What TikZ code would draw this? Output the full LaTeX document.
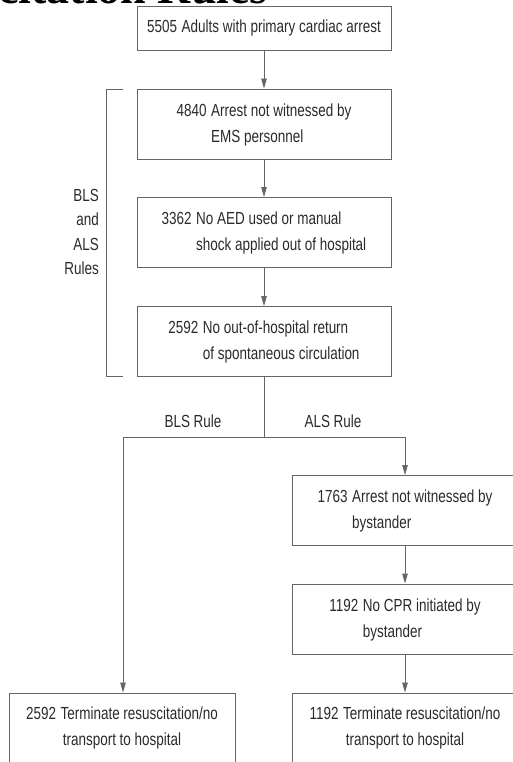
\documentclass[tikz,border=0pt]{standalone}
\usepackage{fontspec}
\setmainfont[FakeStretch=0.77]{Liberation Sans}
\newfontfamily\titlefont{Liberation Serif}
\usetikzlibrary{arrows.meta}
\definecolor{linegray}{HTML}{666666}
\definecolor{textgray}{HTML}{2A2A2A}
\newcommand\hangtext[3]{\begin{tabular}{@{}l@{\hspace{4.5pt}}l@{}}#1 & #2\\ & #3\end{tabular}}
\tikzset{
  flowbox/.style={draw=linegray, line width=0.9pt, minimum width=254pt, minimum height=70pt, inner sep=0pt, text=textgray, font=\fontsize{17.5}{26}\selectfont},
  sidebox/.style={flowbox, minimum width=226pt},
  lbl/.style={text=textgray, font=\fontsize{17.5}{24.5}\selectfont, inner sep=0pt},
  conn/.style={draw=linegray, line width=0.9pt},
  arr/.style={conn, -{Triangle[length=10pt,width=5.5pt]}},
}
\begin{document}
\begin{tikzpicture}[x=1pt,y=-1pt]
\useasboundingbox (0,0) rectangle (512,762);
\node[anchor=base east, inner sep=0pt, font=\titlefont\bfseries\fontsize{46}{50}\selectfont] (title) at (268,4) {Resuscitation Rules};
\node[flowbox, minimum height=44pt] (b1) at (264,28) {5505\hspace{4.5pt}Adults with primary cardiac arrest};
\node[flowbox] (b2) at (264,124) {\hangtext{4840}{Arrest not witnessed by}{EMS personnel}};
\node[flowbox] (b3) at (264,232.5) {\hangtext{3362}{No AED used or manual}{shock applied out of hospital}};
\node[flowbox] (b4) at (264,341.5) {\hangtext{2592}{No out-of-hospital return}{of spontaneous circulation}};
\node[sidebox] (r1) at (405,510.5) {\hangtext{1763}{Arrest not witnessed by}{bystander}};
\node[sidebox] (r2) at (405,619) {\hangtext{1192}{No CPR initiated by}{bystander}};
\node[sidebox, align=center] (r3) at (405,728) {1192\hspace{4.5pt}Terminate resuscitation/no\\transport to hospital};
\node[sidebox, align=center] (l3) at (122,728) {2592\hspace{4.5pt}Terminate resuscitation/no\\transport to hospital};
\node[lbl, align=right, anchor=east] (side) at (99,232) {BLS\\and\\ALS\\Rules};
\node[lbl] (blsr) at (193,421) {BLS Rule};
\node[lbl] (alsr) at (333,421) {ALS Rule};
\coordinate (split) at (264,437);
\coordinate (lcorner) at (123,437);
\coordinate (rcorner) at (405,437);
\coordinate (brtop) at (123,89);
\coordinate (brbot) at (123,376);
\draw[arr] (b1) -- (b2);
\draw[arr] (b2) -- (b3);
\draw[arr] (b3) -- (b4);
\draw[conn] (b4.south) -- (split);
\draw[conn] (lcorner) -- (rcorner);
\draw[arr] (rcorner) -- (r1.north);
\draw[arr] (lcorner) -- (l3.north -| lcorner);
\draw[arr] (r1) -- (r2);
\draw[arr] (r2) -- (r3);
\draw[conn] (brtop) -- (106,89) -- (106,376) -- (brbot);
\end{tikzpicture}
\end{document}
